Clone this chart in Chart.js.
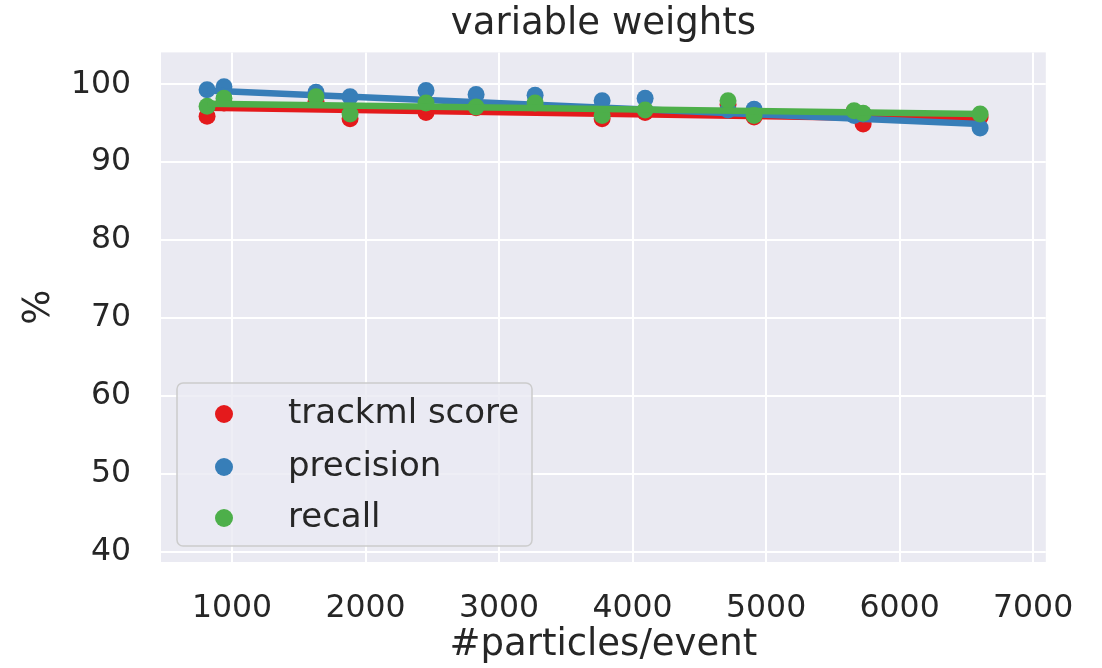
<!DOCTYPE html>
<html>
<head>
<meta charset="utf-8">
<script src="https://cdn.jsdelivr.net/npm/chart.js@4.4.1/dist/chart.umd.min.js"></script>
<style>
  html, body { margin: 0; padding: 0; background: #ffffff; }
  #wrap { width: 1102px; height: 668px; }
</style>
</head>
<body>
<div id="wrap"><canvas id="chart" width="1102" height="668"></canvas></div>
<script>
// particles per event for each test event
const particles = [813, 940, 1629, 1884, 2453, 2828, 3270, 3772, 4094, 4715, 4910, 5659, 5727, 6603];

// scores in %
const trackmlScore = [95.9, 97.6, 97.8, 95.6, 96.4, 97.0, 97.2, 95.6, 96.4, 97.4, 95.8, 96.5, 94.9, 95.8];
const precision = [99.3, 99.7, 99.0, 98.4, 99.2, 98.7, 98.6, 97.9, 98.2, 96.7, 96.8, 96.0, 96.2, 94.4];
const recall = [97.2, 98.2, 98.4, 96.2, 97.6, 97.1, 97.6, 96.0, 96.7, 97.9, 96.0, 96.6, 96.3, 96.2];

// regression line ends
const fitX = [813, 6603];
const trackmlFit = [97.0, 95.5];
const precisionFit = [99.2, 94.9];
const recallFit = [97.5, 96.2];

const seriesNames = ['trackml score', 'precision', 'recall'];
const colors = ['#e41a1c', '#377eb8', '#4daf4a'];

const xTicks = [1000, 2000, 3000, 4000, 5000, 6000, 7000];
const yTicks = [40, 50, 60, 70, 80, 90, 100];

const TEXT = '#262626';
const FONT = 'DejaVu Sans';

function pts(xs, ys) {
  return xs.map((x, i) => ({ x: x, y: ys[i] }));
}

const allValues = [trackmlScore, precision, recall];
const allFits = [trackmlFit, precisionFit, recallFit];

// seaborn draws scatter then line per series, red -> blue -> green
const datasets = [];
allValues.forEach((vals, i) => {
  datasets.push({
    label: seriesNames[i],
    data: pts(particles, vals),
    backgroundColor: colors[i],
    pointBackgroundColor: colors[i],
    pointBorderWidth: 0,
    pointRadius: 8.5,
    pointHoverRadius: 8.5,
    showLine: false,
    order: 6 - i * 2
  });
  datasets.push({
    label: seriesNames[i] + ' fit',
    data: pts(fitX, allFits[i]),
    borderColor: colors[i],
    borderWidth: 6.5,
    pointRadius: 0,
    showLine: true,
    fill: false,
    order: 5 - i * 2
  });
});

const plotBg = {
  id: 'plotBg',
  beforeDraw(chart) {
    const { ctx, chartArea: a } = chart;
    ctx.save();
    ctx.fillStyle = '#eaeaf2';
    ctx.fillRect(a.left, a.top, a.right - a.left, a.bottom - a.top);
    ctx.restore();
  }
};

const boxLegend = {
  id: 'boxLegend',
  afterDatasetsDraw(chart) {
    const { ctx } = chart;
    const x0 = 177, y0 = 383, w = 355, h = 163, r = 6;
    ctx.save();
    ctx.beginPath();
    ctx.roundRect(x0, y0, w, h, r);
    ctx.fillStyle = 'rgba(234,234,242,0.8)';
    ctx.fill();
    ctx.lineWidth = 1.5;
    ctx.strokeStyle = '#cccccc';
    ctx.stroke();
    ctx.font = '34px "' + FONT + '"';
    ctx.textBaseline = 'middle';
    ctx.textAlign = 'left';
    const rows = [414, 467, 518];
    seriesNames.forEach((name, i) => {
      ctx.beginPath();
      ctx.arc(224, rows[i], 9, 0, Math.PI * 2);
      ctx.fillStyle = colors[i];
      ctx.fill();
      ctx.fillStyle = TEXT;
      ctx.fillText(name, 288, rows[i]);
    });
    ctx.restore();
  }
};

new Chart(document.getElementById('chart'), {
  type: 'scatter',
  data: { datasets: datasets },
  plugins: [plotBg, boxLegend],
  options: {
    responsive: false,
    animation: false,
    layout: { padding: { left: 0, right: 56, top: 0, bottom: 0 } },
    plugins: {
      legend: { display: false },
      tooltip: { enabled: false },
      title: {
        display: true,
        text: 'variable weights',
        fullSize: false,
        color: TEXT,
        font: { family: FONT, size: 37, weight: 'normal' },
        padding: { top: 2, bottom: 6 }
      }
    },
    scales: {
      x: {
        type: 'linear',
        min: 468,
        max: 7095,
        afterFit(scale) { scale.height = 106; },
        afterBuildTicks(scale) { scale.ticks = xTicks.map(v => ({ value: v })); },
        border: { display: false },
        grid: { color: '#ffffff', lineWidth: 2, drawTicks: false },
        ticks: {
          color: TEXT,
          font: { family: FONT, size: 31.5 },
          padding: 28,
          maxRotation: 0,
          callback: v => String(v)
        },
        title: {
          display: true,
          text: '#particles/event',
          color: TEXT,
          font: { family: FONT, size: 37 },
          padding: { top: 0, bottom: 0 }
        }
      },
      y: {
        type: 'linear',
        min: 38.7,
        max: 104.1,
        afterFit(scale) { scale.width = 161; },
        afterBuildTicks(scale) { scale.ticks = yTicks.map(v => ({ value: v })); },
        border: { display: false },
        grid: { color: '#ffffff', lineWidth: 2, drawTicks: false },
        ticks: {
          color: TEXT,
          font: { family: FONT, size: 31.5 },
          padding: 30,
          callback: v => String(v)
        },
        title: {
          display: true,
          text: '%',
          color: TEXT,
          font: { family: FONT, size: 37 },
          padding: { top: 17, bottom: 0 }
        }
      }
    }
  }
});
</script>
</body>
</html>
